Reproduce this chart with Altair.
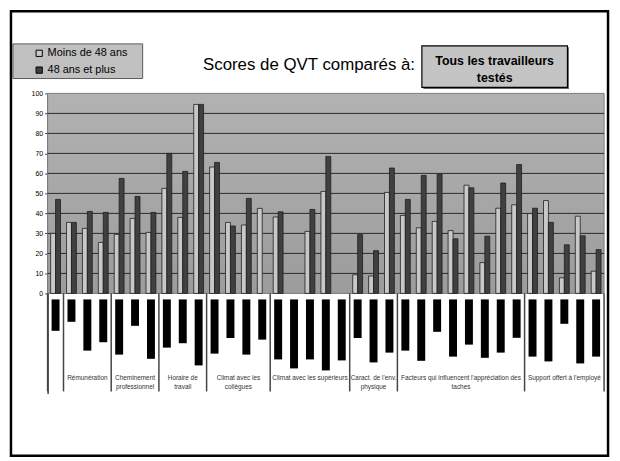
import altair as alt
import pandas as pd

# ---------------- data ----------------
series = ["Moins de 48 ans", "48 ans et plus"]
groups = ["", "Rémunération", "Cheminement\nprofessionnel", "Horaire de\ntravail",
          "Climat avec les\ncollègues", "Climat avec les supérieurs",
          "Caract. de l'env.\nphysique",
          "Facteurs qui influencent l'appréciation des\ntaches",
          "Support offert à l'employé"]
group_sizes = [1, 3, 3, 3, 4, 5, 3, 8, 5]

moins48 = [30, 35.5, 32.5, 25.5, 29.5, 37.5, 30.5, 52.5, 38, 94.5,
           63.2, 35.5, 34.2, 42.5, 38.2, None, 31, 51, None, 9.3,
           8.7, 50.5, 39, 32.8, 36, 31.4, 54.1, 15.4, 42.6, 44.3,
           39.9, 46.4, 7.8, 38.6, 11.1]
plus48 = [47, 35.5, 41, 40.5, 57.5, 48.5, 40.5, 70, 61, 94.5,
          65.5, 33.7, 47.5, None, 40.8, None, 42, 68.5, None, 29.4,
          21.4, 62.7, 47, 59, 59.6, 27.3, 52.8, 28.6, 55.2, 64.4,
          42.6, 35.5, 24.3, 28.8, 21.9]
# lengths of the black bars hanging below the axis
noir = [15.7, 11.2, 25.6, 21.4, 27.6, 13.2, 29.7, 24.1, 21.9, 33.0,
        27.1, 19.3, 27.6, 20.1, 30.0, 34.5, 30.0, 35.5, 30.5, 19.3,
        31.5, 26.6, 25.6, 30.7, 16.2, 28.6, 22.6, 29.2, 26.6, 19.2,
        28.6, 31.0, 12.2, 32.0, 28.6]
y_ticks = list(range(0, 101, 10))
grid_vals = list(range(10, 100, 10))

N = len(moins48)

# ---------------- tables ----------------
rows = []
for i, (a, b) in enumerate(zip(moins48, plus48)):
    rows.append({"serie": series[0], "x0": i + 0.19, "x1": i + 0.5, "v": a, "z": 0})
    rows.append({"serie": series[1], "x0": i + 0.5, "x1": i + 0.81, "v": b, "z": 0})
bars_df = pd.DataFrame(rows).dropna()

black_df = pd.DataFrame({
    "x0": [i + 0.25 for i in range(N)],
    "x1": [i + 0.75 for i in range(N)],
    "top": [-3] * N,
    "bot": [-3 - v for v in noir],
})

bounds = [0]
for s in group_sizes:
    bounds.append(bounds[-1] + s)
sep_df = pd.DataFrame({"b": bounds, "y0": 0, "y1": -49})
lab_df = pd.DataFrame({
    "label": groups,
    "c": [(bounds[k] + bounds[k + 1]) / 2 for k in range(len(groups))],
    "y": -40.8,
})
bg_df = pd.DataFrame({"x0": [0], "x1": [N], "y0": [0], "y1": [100]})
grid_df = pd.DataFrame({"g": grid_vals})

FONT = "Liberation Sans"
xs = alt.Scale(domain=[0, N], nice=False, zero=False)
ys = alt.Scale(domain=[-50, 100], nice=False, zero=False)
yax = alt.Axis(values=y_ticks, title=None, grid=False, labelFontSize=7,
               labelFont=FONT, labelColor="#000", tickSize=3,
               tickColor="#444", domainColor="#444", domainWidth=1.5,
               labelPadding=2)


def Y(field):
    return alt.Y(field, scale=ys, axis=yax)


def X(field):
    return alt.X(field, scale=xs, axis=None)


bg = alt.Chart(bg_df).mark_rect(
    fill=alt.LinearGradient(gradient="linear",
                            stops=[alt.GradientStop(color="#b2b2b2", offset=0),
                                   alt.GradientStop(color="#9c9c9c", offset=1)],
                            x1=0, x2=0, y1=0, y2=1),
    stroke="#7a7a7a", strokeWidth=1,
).encode(x=X("x0:Q"), x2="x1:Q", y=Y("y0:Q"), y2="y1:Q")

grid = alt.Chart(grid_df).mark_rule(color="#2a2a2a", strokeWidth=1).encode(y=Y("g:Q"))

bars = alt.Chart(bars_df).mark_bar(stroke="#1e1e1e", strokeWidth=0.8).encode(
    x=X("x0:Q"), x2="x1:Q", y=Y("v:Q"), y2="z:Q",
    color=alt.Color("serie:N", scale=alt.Scale(domain=series, range=["#c8c8c8", "#404040"]),
                    legend=alt.Legend(title=None, orient="none", legendX=-14, legendY=-46,
                                      labelFontSize=11, labelFont=FONT, labelColor="#000",
                                      symbolType="square", symbolSize=40,
                                      symbolStrokeColor="#000", symbolStrokeWidth=1,
                                      rowPadding=5, labelOffset=3, padding=0)),
)

black = alt.Chart(black_df).mark_bar(color="#000").encode(
    x=X("x0:Q"), x2="x1:Q", y=Y("top:Q"), y2="bot:Q")

seps = alt.Chart(sep_df).mark_rule(color="#444", strokeWidth=1.5).encode(
    x=X("b:Q"), y=Y("y0:Q"), y2="y1:Q")

labels = alt.Chart(lab_df).mark_text(
    fontSize=6.5, font=FONT, color="#333", baseline="top", align="center",
    lineBreak="\n", lineHeight=9,
).encode(x=X("c:Q"), y=Y("y:Q"), text="label:N")

# legend box, title, comparison box and slide frame (annotations)
legend_box = alt.Chart(bg_df).mark_rect(fill="#c0c0c0", stroke="#5a5a5a", strokeWidth=1).encode(
    x=alt.value(-35), x2=alt.value(96), y=alt.value(-50), y2=alt.value(-15))

title = alt.Chart(bg_df).mark_text(
    text="Scores de QVT comparés à:", fontSize=17, font=FONT, color="#000",
    align="center", baseline="middle").encode(x=alt.value(264), y=alt.value(-29))

box_shadow = alt.Chart(bg_df).mark_rect(fill="#666").encode(
    x=alt.value(379.5), x2=alt.value(526.5), y=alt.value(-46.5), y2=alt.value(-4.5))
box = alt.Chart(bg_df).mark_rect(fill="#c4c4c4", stroke="#000", strokeWidth=1.2).encode(
    x=alt.value(378), x2=alt.value(525), y=alt.value(-48), y2=alt.value(-6))
box_text1 = alt.Chart(bg_df).mark_text(
    text="Tous les travailleurs", fontSize=12.5, fontWeight="bold", font=FONT, color="#000",
    align="center", baseline="middle").encode(x=alt.value(451.5), y=alt.value(-33))
box_text2 = alt.Chart(bg_df).mark_text(
    text="testés", fontSize=12.5, fontWeight="bold", font=FONT, color="#000",
    align="center", baseline="middle").encode(x=alt.value(451.5), y=alt.value(-16))

frame = alt.Chart(bg_df).mark_rect(filled=False, stroke="#000", strokeWidth=2.5).encode(
    x=alt.value(-37), x2=alt.value(566), y=alt.value(-83), y2=alt.value(366))

chart = alt.layer(
    bg, grid, bars, black, seps, labels, legend_box, title, box_shadow, box,
    box_text1, box_text2, frame
).properties(
    width=562, height=303,
    autosize=alt.AutoSizeParams(type="none"),
    padding={"left": 40, "top": 84, "right": 8, "bottom": 65},
    background="#ffffff",
).configure_view(stroke=None)

chart.save("out.html", embed_options={"renderer": "svg", "actions": False})
